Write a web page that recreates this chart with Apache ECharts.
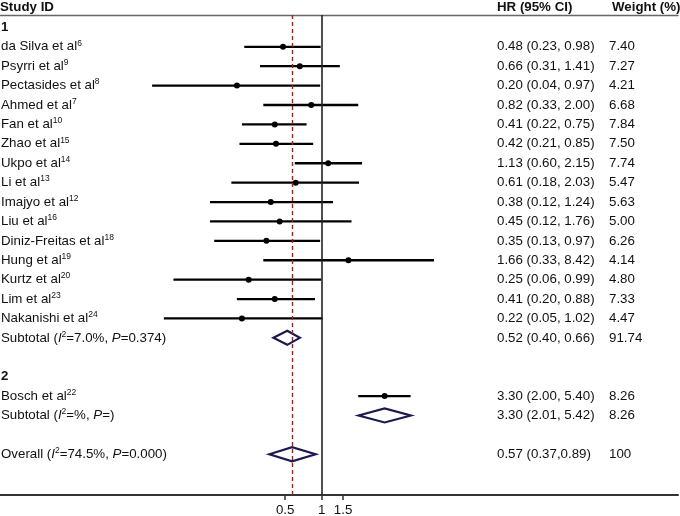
<!DOCTYPE html>
<html><head><meta charset="utf-8">
<script src="https://cdn.jsdelivr.net/npm/echarts@6/dist/echarts.min.js"></script>
<style>html,body{margin:0;padding:0;background:#fff}#c{width:680px;height:516px}</style>
</head><body><div id="c"></div>
<script>
// ---------- data ----------
const groupNames = ['1', '2'];
const group1Studies = ['da Silva et al', 'Psyrri et al', 'Pectasides et al', 'Ahmed et al', 'Fan et al', 'Zhao et al', 'Ukpo et al', 'Li et al', 'Imajyo et al', 'Liu et al', 'Diniz-Freitas et al', 'Hung et al', 'Kurtz et al', 'Lim et al', 'Nakanishi et al'];
const group1Refs = ['6', '9', '8', '7', '10', '15', '14', '13', '12', '16', '18', '19', '20', '23', '24'];
const group1HR = [0.48, 0.66, 0.20, 0.82, 0.41, 0.42, 1.13, 0.61, 0.38, 0.45, 0.35, 1.66, 0.25, 0.41, 0.22];
const group1Lo = [0.23, 0.31, 0.04, 0.33, 0.22, 0.21, 0.60, 0.18, 0.12, 0.12, 0.13, 0.33, 0.06, 0.20, 0.05];
const group1Hi = [0.98, 1.41, 0.97, 2.00, 0.75, 0.85, 2.15, 2.03, 1.24, 1.76, 0.97, 8.42, 0.99, 0.88, 1.02];
const group1Weight = ['7.40', '7.27', '4.21', '6.68', '7.84', '7.50', '7.74', '5.47', '5.63', '5.00', '6.26', '4.14', '4.80', '7.33', '4.47'];

const group2Studies = ['Bosch et al'];
const group2Refs = ['22'];
const group2HR = [3.30];
const group2Lo = [2.00];
const group2Hi = [5.40];
const group2Weight = ['8.26'];

const subtotalLabels = ['Subtotal ({i|I}{sup|2}=7.0%, {i|P}=0.374)', 'Subtotal ({i|I}{sup|2}=%, {i|P}=)'];
const subtotalHR = [0.52, 3.30];
const subtotalLo = [0.40, 2.01];
const subtotalHi = [0.66, 5.42];
const subtotalWeight = ['91.74', '8.26'];

const overallLabel = 'Overall ({i|I}{sup|2}=74.5%, {i|P}=0.000)';
const overallHR = 0.57;
const overallLo = 0.37;
const overallHi = 0.89;
const overallCIText = '0.57 (0.37,0.89)';
const overallWeight = '100';

const xTickValues = [0.5, 1, 1.5];
const xTickLabels = ['0.5', '1', '1.5'];
const headers = ['Study ID', 'HR (95% CI)', 'Weight (%)'];

// ---------- build rows ----------
const fmt = v => v.toFixed(2);
const ciText = (h, l, u) => fmt(h) + ' (' + fmt(l) + ', ' + fmt(u) + ')';
const nameByRow = {}, ciByRow = {}, wByRow = {};
const studyData = [], diamondData = [];
let r = 0;
const groups = [
  {studies: group1Studies, refs: group1Refs, hr: group1HR, lo: group1Lo, hi: group1Hi, w: group1Weight},
  {studies: group2Studies, refs: group2Refs, hr: group2HR, lo: group2Lo, hi: group2Hi, w: group2Weight}
];
groups.forEach((g, gi) => {
  nameByRow[r] = '{b|' + groupNames[gi] + '}';
  r++;
  g.studies.forEach((s, i) => {
    nameByRow[r] = s + '{sup|' + g.refs[i] + '}';
    ciByRow[r] = ciText(g.hr[i], g.lo[i], g.hi[i]);
    wByRow[r] = g.w[i];
    studyData.push([g.hr[i], r, g.lo[i], g.hi[i]]);
    r++;
  });
  nameByRow[r] = subtotalLabels[gi];
  ciByRow[r] = ciText(subtotalHR[gi], subtotalLo[gi], subtotalHi[gi]);
  wByRow[r] = subtotalWeight[gi];
  diamondData.push([subtotalHR[gi], r, subtotalLo[gi], subtotalHi[gi]]);
  r += 2;
});
nameByRow[r] = overallLabel;
ciByRow[r] = overallCIText;
wByRow[r] = overallWeight;
diamondData.push([overallHR, r, overallLo, overallHi]);

const rowsName = Object.keys(nameByRow).map(Number);
const rowsCI = Object.keys(ciByRow).map(Number);

// ---------- style ----------
const FONT = '"Liberation Sans", Arial, sans-serif';
const FS = 13.3;
const TXT = '#111';
const rich = {
  b: {fontWeight: 'bold', fontSize: FS, fontFamily: FONT, color: TXT, lineHeight: 16},
  i: {fontStyle: 'italic', fontSize: FS, fontFamily: FONT, color: TXT, lineHeight: 16},
  sup: {fontSize: 8.5, fontFamily: FONT, color: TXT, verticalAlign: 'top', lineHeight: 10}
};
const labelBase = {inside: true, margin: 1, color: TXT, fontSize: FS, fontFamily: FONT, lineHeight: 16, rich: rich};
const yBase = {
  type: 'value', inverse: true, min: -0.64, max: 24.1,
  axisLine: {show: false, onZero: false}, axisTick: {show: false}, splitLine: {show: false}
};
const xMin = 0.002232, xMax = 863;

const chart = echarts.init(document.getElementById('c'), null, {renderer: 'canvas'});
chart.setOption({
  animation: false,
  backgroundColor: '#fff',
  grid: {left: 0, right: 2, top: 15, bottom: 21, containLabel: false, outerBoundsMode: 'none'},
  xAxis: [
    {
      type: 'log', position: 'bottom', min: xMin, max: xMax,
      axisLine: {show: true, onZero: false, lineStyle: {color: '#333', width: 2}},
      axisTick: {show: true, length: 5, customValues: xTickValues, lineStyle: {color: '#333', width: 1.5}},
      minorTick: {show: false},
      splitLine: {show: false},
      axisLabel: {
        show: true, customValues: xTickValues, margin: 9, color: TXT, fontSize: FS, fontFamily: FONT,
        formatter: v => {
          let best = 0;
          xTickValues.forEach((t, i) => { if (Math.abs(t - v) < Math.abs(xTickValues[best] - v)) best = i; });
          return xTickLabels[best];
        }
      }
    },
    {
      type: 'log', position: 'top', min: xMin, max: xMax,
      axisLine: {show: true, onZero: false, lineStyle: {color: '#666', width: 1.3}},
      axisTick: {show: false}, axisLabel: {show: false}, splitLine: {show: false}, minorTick: {show: false}
    }
  ],
  yAxis: [
    Object.assign({}, yBase, {position: 'left', axisLabel: Object.assign({}, labelBase, {customValues: rowsName, formatter: v => nameByRow[Math.round(v)] || ''})}),
    Object.assign({}, yBase, {position: 'left', offset: -497, axisLabel: Object.assign({}, labelBase, {margin: 0, customValues: rowsCI, formatter: v => ciByRow[Math.round(v)] || ''})}),
    Object.assign({}, yBase, {position: 'left', offset: -609, axisLabel: Object.assign({}, labelBase, {margin: 0, customValues: rowsCI, formatter: v => wByRow[Math.round(v)] || ''})})
  ],
  graphic: [
    {type: 'text', left: 0, top: 1, style: {text: headers[0], font: 'bold ' + FS + 'px ' + FONT, fill: TXT}},
    {type: 'text', left: 497, top: 1, style: {text: headers[1], font: 'bold ' + FS + 'px ' + FONT, fill: TXT}},
    {type: 'text', left: 612, top: 1, style: {text: headers[2], font: 'bold ' + FS + 'px ' + FONT, fill: TXT}}
  ],
  series: [
    {
      type: 'custom', name: 'studies', xAxisIndex: 0, yAxisIndex: 0,
      data: studyData, encode: {x: [0, 2, 3], y: 1},
      renderItem: (params, api) => {
        const y = api.value(1);
        const pLo = api.coord([api.value(2), y]);
        const pHi = api.coord([api.value(3), y]);
        const pE = api.coord([api.value(0), y]);
        return {type: 'group', children: [
          {type: 'line', shape: {x1: pLo[0], y1: pLo[1], x2: pHi[0], y2: pHi[1]}, style: {stroke: '#000', lineWidth: 2.3}},
          {type: 'circle', shape: {cx: pE[0], cy: pE[1], r: 3}, style: {fill: '#000'}}
        ]};
      },
      markLine: {
        silent: true, symbol: ['none', 'none'], label: {show: false},
        data: [
          {xAxis: 1, lineStyle: {color: '#222', width: 1.6, type: 'solid'}},
          {xAxis: overallHR, lineStyle: {color: '#8b2a2a', width: 1.4, type: [4, 3]}}
        ]
      }
    },
    {
      type: 'custom', name: 'pooled', xAxisIndex: 0, yAxisIndex: 0,
      data: diamondData, encode: {x: [0, 2, 3], y: 1},
      renderItem: (params, api) => {
        const y = api.value(1);
        const pLo = api.coord([api.value(2), y]);
        const pHi = api.coord([api.value(3), y]);
        const pE = api.coord([api.value(0), y]);
        const h = 7;
        return {type: 'polygon', shape: {points: [[pLo[0], pE[1]], [pE[0], pE[1] - h], [pHi[0], pE[1]], [pE[0], pE[1] + h]]},
          style: {fill: 'none', stroke: '#1a1a4e', lineWidth: 2.2}};
      }
    }
  ]
});
</script>
</body></html>
